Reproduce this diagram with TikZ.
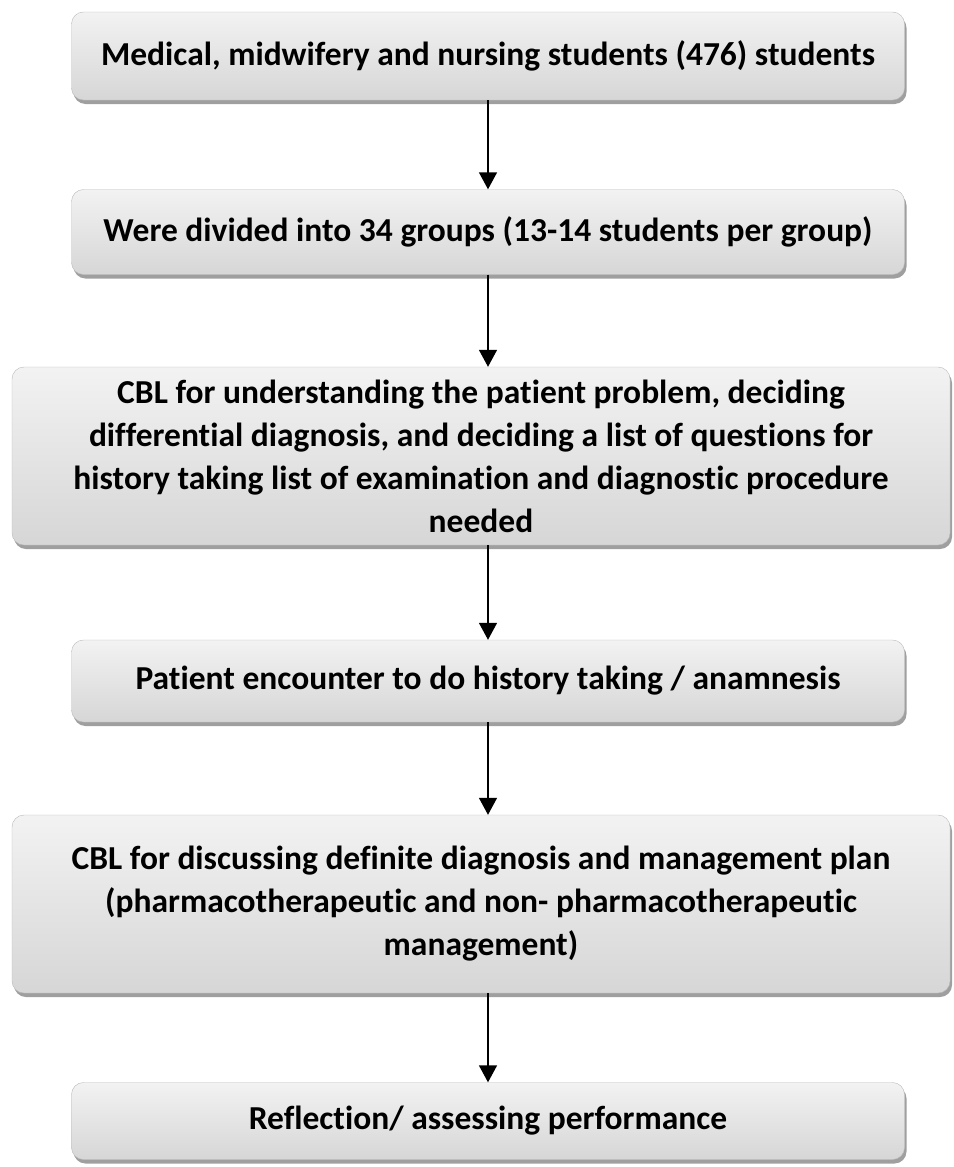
\documentclass[tikz,border=0pt]{standalone}
\usepackage{fontspec}
\setmainfont{Carlito}[Ligatures=NoCommon]
\usepackage{tikz}
\usetikzlibrary{shadows,arrows.meta}

\tikzset{
  stepbox/.style={draw=gray!55, rounded corners=12pt, top color=gray!10, bottom color=gray!32,
    align=center, font=\fontsize{33.5}{43}\selectfont\bfseries,
    drop shadow={shadow xshift=2pt, shadow yshift=-4pt, fill=gray!75, opacity=1}},
  flow/.style={-{Triangle[length=17pt,width=18pt]}, line width=1.5pt}
}

\begin{document}
\begin{tikzpicture}
\useasboundingbox (0pt,0pt) rectangle (953pt,-1167pt);

\node[stepbox, minimum width=833pt, minimum height=88pt] (students) at (488pt,-56pt) {Medical, midwifery and nursing students (476) students};
\node[stepbox, minimum width=833pt, minimum height=85pt] (groups) at (488pt,-232pt) {Were divided into 34 groups (13-14 students per group)};
\node[stepbox, minimum width=938pt, minimum height=178pt] (cblone) at (481pt,-456pt) {CBL for understanding the patient problem, deciding\\ differential diagnosis, and deciding a list of questions for\\ history taking list of examination and diagnostic procedure\\ needed};
\node[stepbox, minimum width=833pt, minimum height=82pt] (encounter) at (488pt,-681pt) {Patient encounter to do history taking / anamnesis};
\node[stepbox, minimum width=938pt, minimum height=178pt] (cbltwo) at (481pt,-904pt) {CBL for discussing definite diagnosis and management plan\\ (pharmacotherapeutic and non- pharmacotherapeutic\\ management)};
\node[stepbox, minimum width=833pt, minimum height=77pt] (reflection) at (488pt,-1121pt) {Reflection/ assessing performance};

% arrows between the steps
\draw[flow] (students.south) -- (groups.north);
\draw[flow] (groups.south) -- (groups.south |- cblone.north);
\draw[flow] (groups.south |- cblone.south) -- (encounter.north);
\draw[flow] (encounter.south) -- (encounter.south |- cbltwo.north);
\draw[flow] (encounter.south |- cbltwo.south) -- (reflection.north);
\end{tikzpicture}
\end{document}
